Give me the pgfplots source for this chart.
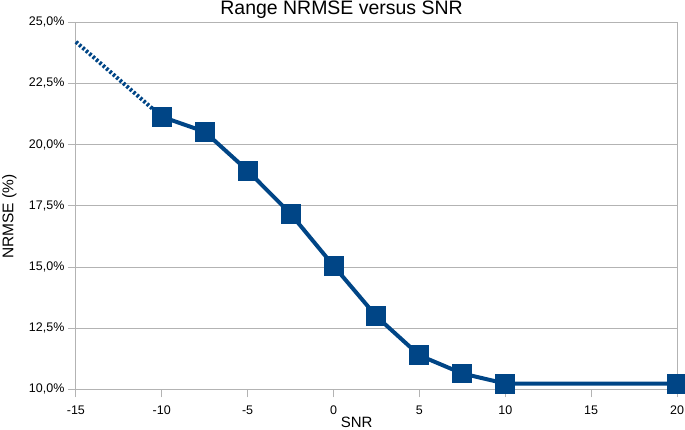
\documentclass[border=0pt]{standalone}
\usepackage{pgfplots}
\pgfplotsset{compat=1.18}
\usepackage{fontspec}
\setmainfont{Liberation Sans}
\definecolor{ser}{HTML}{004586}
\definecolor{gridc}{HTML}{B3B3B3}
\begin{document}
\begin{tikzpicture}[x=1pt,y=1pt]
\begin{axis}[
  scale only axis,
  width=602pt, height=368pt,
  xmin=-15, xmax=20, ymin=10, ymax=25,
  xtick={-15,-10,-5,0,5,10,15,20},
  ytick={10,12.5,15,17.5,20,22.5,25},
  ymajorgrids, major grid style={gridc, line width=0.8pt},
  axis line style={gridc, line width=0.8pt},
  tick style={gridc, line width=0.8pt},
  tick align=outside, major tick length=8pt,
  xtick pos=bottom, ytick pos=left,
  /pgf/number format/assume math mode=true,
  ticklabel style={font=\fontsize{12.5}{14}\selectfont, overlay},
  xticklabel style={yshift=-5pt},
  yticklabel={\pgfmathprintnumber[fixed,fixed zerofill,precision=1,use comma]{\tick}\%},
  every axis title shift=0pt,
  title={Range NRMSE versus SNR},
  title style={font=\fontsize{19.5}{22}\selectfont, at={(axis description cs:0.442,1)}, anchor=base, inner sep=0pt, yshift=7pt, overlay},
  xlabel={SNR}, xlabel style={font=\fontsize{15}{17}\selectfont, at={(axis description cs:0.467,0)}, anchor=base, inner sep=0pt, yshift=-38pt, overlay},
  ylabel={NRMSE (\%)}, ylabel style={font=\fontsize{15.5}{17}\selectfont, at={(axis description cs:0,0.47)}, anchor=base, rotate=0, inner sep=0pt, yshift=62.5pt, overlay},
  clip=false,
]
\addplot[ser, line width=4pt, dash pattern=on 2.5pt off 2pt] coordinates {(-15,24.19) (-10,21.13)};
\addplot[ser, line width=4pt, mark=square*, mark size=8pt, mark options={solid}] coordinates {
(-10,21.13) (-7.5,20.52) (-5,18.93) (-2.5,17.17) (0,15.05) (2.5,12.98) (5,11.39) (7.5,10.65) (10,10.24) (20,10.24)};
\end{axis}
\path ([xshift=-76pt,yshift=-40pt]current axis.south west) rectangle ([xshift=7pt,yshift=22pt]current axis.north east);
\end{tikzpicture}
\end{document}
